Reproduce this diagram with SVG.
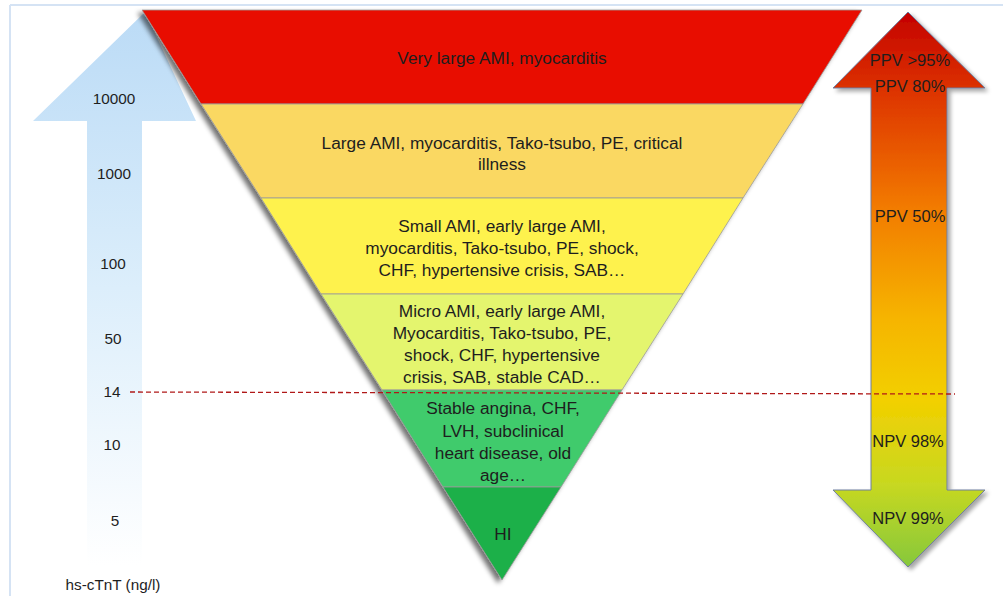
<svg xmlns="http://www.w3.org/2000/svg" width="1003" height="596" viewBox="0 0 1003 596">
<defs>
<linearGradient id="blueG" x1="0" y1="12" x2="0" y2="565" gradientUnits="userSpaceOnUse">
<stop offset="0" stop-color="#BBDBF6"/>
<stop offset="0.5" stop-color="#DCEEFB"/>
<stop offset="1" stop-color="#FFFFFF"/>
</linearGradient>
<linearGradient id="heatG" x1="0" y1="12" x2="0" y2="567" gradientUnits="userSpaceOnUse">
<stop offset="0" stop-color="#C40000"/>
<stop offset="0.15" stop-color="#DE3600"/>
<stop offset="0.35" stop-color="#F27A00"/>
<stop offset="0.55" stop-color="#F6B400"/>
<stop offset="0.7" stop-color="#F2D000"/>
<stop offset="0.85" stop-color="#C8D820"/>
<stop offset="1" stop-color="#86C83C"/>
</linearGradient>
<filter id="shadow" x="-10%" y="-10%" width="120%" height="120%">
<feGaussianBlur in="SourceAlpha" stdDeviation="2.5"/>
<feOffset dx="-4" dy="3" result="b"/>
<feComponentTransfer><feFuncA type="linear" slope="0.55"/></feComponentTransfer>
<feMerge><feMergeNode/><feMergeNode in="SourceGraphic"/></feMerge>
</filter>
<filter id="shadow2" x="-10%" y="-10%" width="120%" height="120%">
<feGaussianBlur in="SourceAlpha" stdDeviation="2"/>
<feOffset dx="3" dy="3" result="b"/>
<feComponentTransfer><feFuncA type="linear" slope="0.35"/></feComponentTransfer>
<feMerge><feMergeNode/><feMergeNode in="SourceGraphic"/></feMerge>
</filter>
</defs>
<style>
text{font-family:"Liberation Sans",Arial,sans-serif;fill:#1e1e1e;}
.t{font-size:17.3px;text-anchor:middle;}
.ax{font-size:15.3px;text-anchor:middle;}
.pv{font-size:16.5px;text-anchor:middle;}
.band{stroke:#9a9a9a;stroke-width:0.8;}
</style>
<rect x="0" y="0" width="1003" height="596" fill="#FFFFFF"/>
<g id="frame" fill="none" stroke="#D5E3F4" stroke-width="2">
<line x1="10" y1="5" x2="1003" y2="5"/>
<line x1="10" y1="5" x2="10" y2="596"/>
</g>
<g id="left-arrow">
<polygon points="145,12 196,121 142,121 142,565 87,565 87,121 33,121" fill="url(#blueG)"/>
<text class="ax" x="114" y="104">10000</text>
<text class="ax" x="114" y="179">1000</text>
<text class="ax" x="113" y="269">100</text>
<text class="ax" x="113" y="344">50</text>
<text class="ax" x="112" y="397">14</text>
<text class="ax" x="112" y="450">10</text>
<text class="ax" x="115" y="526">5</text>
<text class="ax" x="113" y="590">hs-cTnT (ng/l)</text>
</g>
<g id="pyramid" filter="url(#shadow)">
<polygon class="band" points="142,10 862,10 803,104 201,104" fill="#E81000"/>
<polygon class="band" points="201,104 803,104 743,198 261,198" fill="#FAD862"/>
<polygon class="band" points="261,198 743,198 683,294 321,294" fill="#FEF24E"/>
<polygon class="band" points="321,294 683,294 622,390 382,390" fill="#E4F56E"/>
<polygon class="band" points="382,390 622,390 561,487 443,487" fill="#3FCB6C"/>
<polygon class="band" points="443,487 561,487 502,580" fill="#1DB04A"/>
</g>
<g id="band-red"><text class="t" x="502" y="64">Very large AMI, myocarditis</text></g>
<g id="band-orange"><text class="t" x="502" y="149">Large AMI, myocarditis, Tako-tsubo, PE, critical</text><text class="t" x="502" y="170">illness</text></g>
<g id="band-yellow"><text class="t" x="502" y="232">Small AMI, early large AMI,</text><text class="t" x="502" y="254">myocarditis, Tako-tsubo, PE, shock,</text><text class="t" x="502" y="276">CHF, hypertensive crisis, SAB…</text></g>
<g id="band-lightgreen"><text class="t" x="502" y="317">Micro AMI, early large AMI,</text><text class="t" x="502" y="339">Myocarditis, Tako-tsubo, PE,</text><text class="t" x="502" y="361">shock, CHF, hypertensive</text><text class="t" x="502" y="383">crisis, SAB, stable CAD…</text></g>
<g id="band-green"><text class="t" x="503" y="414">Stable angina, CHF,</text><text class="t" x="503" y="437">LVH, subclinical</text><text class="t" x="503" y="459">heart disease, old</text><text class="t" x="503" y="481">age…</text></g>
<g id="band-darkgreen"><text class="t" x="503" y="540">HI</text></g>
<g id="right-arrow">
<polygon points="908,12 985,88 947,88 947,490 985,490 908,567 833,490 871,490 871,88 833,88" fill="url(#heatG)" stroke="#6F7FA0" stroke-width="1" filter="url(#shadow2)"/>
<text class="pv" x="910" y="66">PPV &gt;95%</text>
<text class="pv" x="910" y="92">PPV 80%</text>
<text class="pv" x="910" y="222">PPV 50%</text>
<text class="pv" x="908" y="447">NPV 98%</text>
<text class="pv" x="908" y="524">NPV 99%</text>
</g>
<g id="connectors">
<line x1="130" y1="392" x2="955" y2="394" stroke="#B01818" stroke-width="1.3" stroke-dasharray="5,3"/>
</g>
</svg>
